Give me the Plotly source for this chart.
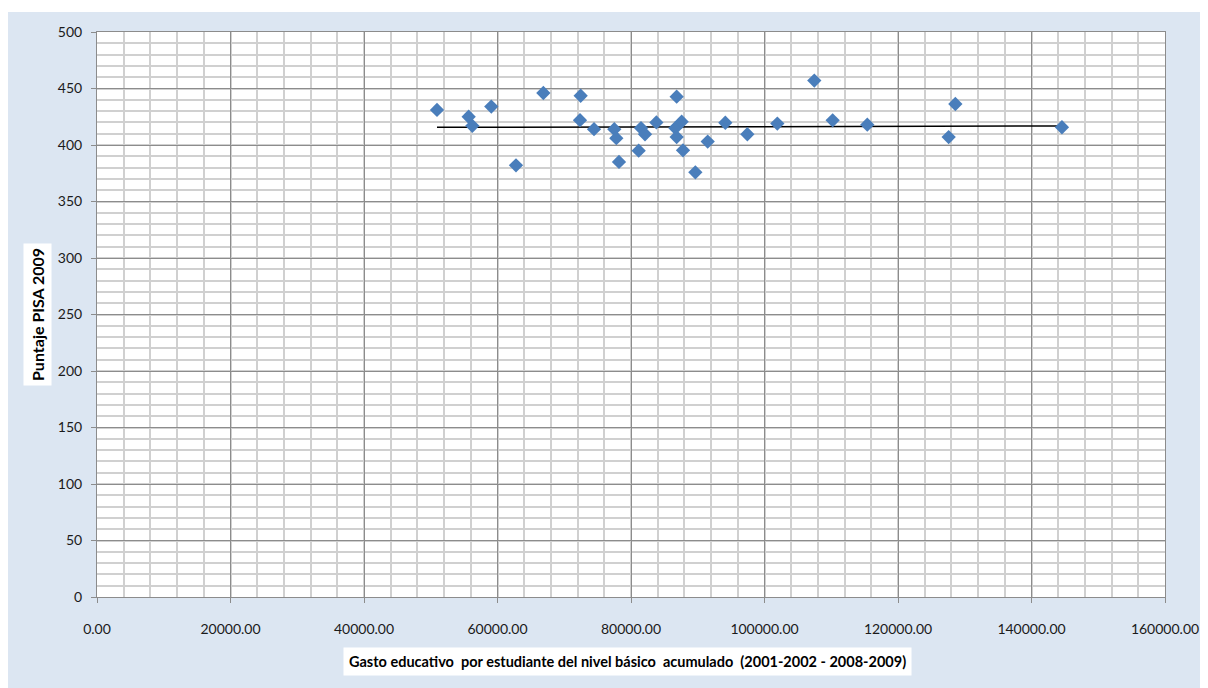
import plotly.graph_objects as go

# Data
gasto = [50935, 55680, 56230, 59070, 62770, 66870, 72460, 72360, 74460, 77500,
         77800, 78200, 81150, 81500, 82100, 83800, 86840, 86640, 86840, 87590,
         87790, 89640, 91490, 94130, 97430, 101920, 107460, 110210, 115400,
         127590, 128590, 144560]
puntaje = [431, 425, 417, 434, 382, 446, 443.6, 422, 414, 414,
           406, 385, 395, 415, 409.5, 420, 442.8, 415, 407, 420.6,
           395.3, 375.8, 403, 419.7, 409.5, 419, 457, 421.8, 418,
           407, 436.3, 415.7]
trend_x = [50935, 144560]
trend_y = [415.6, 416.8]

x_ticks = [0, 20000, 40000, 60000, 80000, 100000, 120000, 140000, 160000]
x_tick_labels = ["%.2f" % v for v in x_ticks]
y_ticks = [0, 50, 100, 150, 200, 250, 300, 350, 400, 450, 500]

x_title = "Gasto educativo  por estudiante del nivel básico  acumulado  (2001-2002 - 2008-2009)"
y_title = "Puntaje PISA 2009"

# page body has an 8px margin, so the figure is 8px smaller and shifted
W, H = 1200, 680
ML, MR, MT, MB = 89, 43, 24, 91
PW, PH = W - ML - MR, H - MT - MB

FONT = "Lato, 'Open Sans', sans-serif"
MAJOR = "#8c8c8c"
MINOR = "#d0d0d0"

fig = go.Figure()
fig.add_trace(go.Scatter(
    x=trend_x, y=trend_y, mode="lines",
    line=dict(color="black", width=1.5), showlegend=False, hoverinfo="skip"))
fig.add_trace(go.Scatter(
    x=gasto, y=puntaje, mode="markers",
    marker=dict(symbol="diamond", size=11, color="#4a7ebb",
                line=dict(width=0)),
    showlegend=False))

fig.update_xaxes(
    range=[0, 160000], tickvals=x_ticks, ticktext=x_tick_labels,
    showgrid=True, gridcolor=MAJOR, gridwidth=1,
    minor=dict(dtick=4000, showgrid=True, gridcolor=MINOR, gridwidth=1.6),
    showline=True, linecolor=MAJOR, linewidth=1, mirror=True,
    ticks="outside", ticklen=5, tickcolor=MAJOR,
    ticklabelstandoff=14,
    tickfont=dict(family=FONT, size=14, color="#1a1a1a"),
    zeroline=False, fixedrange=True)
fig.update_yaxes(
    range=[0, 500], tickvals=y_ticks,
    showgrid=True, gridcolor=MAJOR, gridwidth=1,
    minor=dict(dtick=10, showgrid=True, gridcolor=MINOR, gridwidth=1.6),
    showline=True, linecolor=MAJOR, linewidth=1, mirror=True,
    ticks="outside", ticklen=5, tickcolor=MAJOR,
    ticklabelstandoff=6,
    tickfont=dict(family=FONT, size=14, color="#1a1a1a"),
    zeroline=False, fixedrange=True)

shapes = [
    # thin white strip above the chart area
    dict(type="rect", xref="paper", yref="paper",
         x0=-ML / PW - 0.05, x1=1 + MR / PW + 0.05,
         y0=1 + (MT - 4) / PH, y1=1 + MT / PH + 0.05,
         fillcolor="white", line=dict(width=0), layer="above"),
]

annotations = [
    dict(text="<b>%s</b>" % x_title, xref="paper", yref="paper",
         x=(619 - ML) / PW, y=-(653 - (MT + PH)) / PH,
         xanchor="center", yanchor="middle", showarrow=False,
         font=dict(family=FONT, size=14.5, color="black"),
         bgcolor="white", borderpad=5),
    dict(text="<b>%s</b>" % y_title, xref="paper", yref="paper",
         x=-(ML - 29) / PW, y=1 - (307 - MT) / PH, textangle=-90,
         xanchor="center", yanchor="middle", showarrow=False,
         font=dict(family=FONT, size=16, color="black"),
         bgcolor="white", borderpad=4),
]

fig.update_layout(
    width=W, height=H,
    margin=dict(l=ML, r=MR, t=MT, b=MB, autoexpand=False),
    paper_bgcolor="#dce6f2", plot_bgcolor="white",
    shapes=shapes, annotations=annotations,
    font=dict(family=FONT))

fig.write_html("out.html")
